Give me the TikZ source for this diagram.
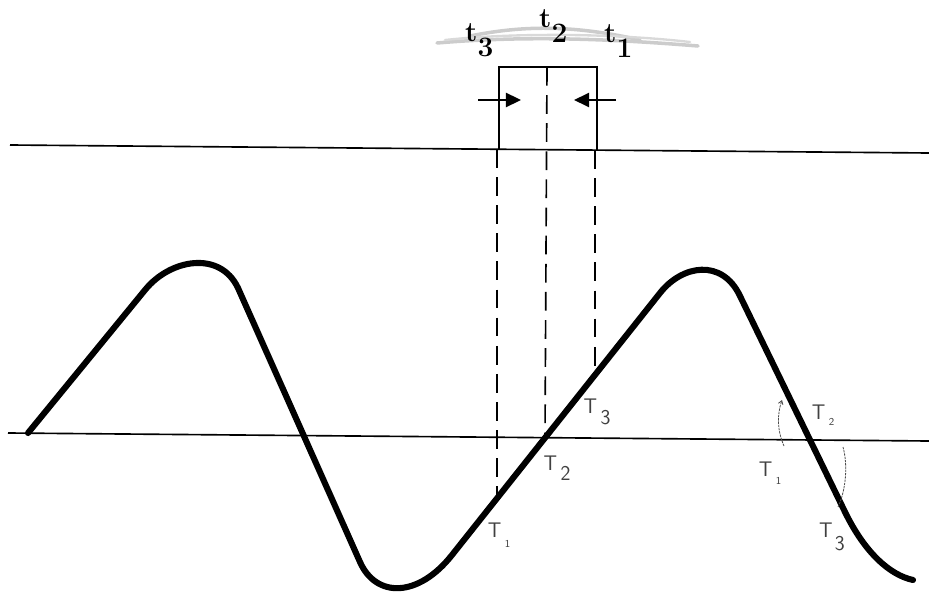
\documentclass[tikz,border=0pt]{standalone}
\usetikzlibrary{arrows.meta}
\begin{document}
\begin{tikzpicture}[x=0.03cm,y=-0.03cm,
  thinline/.style={line width=1.4pt},
  boxline/.style={line width=1.6pt},
  dashline/.style={line width=1.4pt,dash pattern=on 16pt off 8pt},
  wave/.style={line width=5.2pt,line cap=round,line join=round},
  pointer/.style={line width=2.5pt,-{Triangle[length=13pt,width=12pt]}},
  smudge/.style={line width=3pt,gray!40,line cap=round},
  tlabel/.style={inner sep=0pt,anchor=base west,font=\fontsize{24}{24}\selectfont\bfseries},
  hand/.style={inner sep=0pt,font=\fontsize{18}{18}\selectfont\sffamily,text=black!75},
  handarc/.style={line width=0.7pt,black!70,dash pattern=on 2pt off 0.8pt}]
\useasboundingbox (0,0) rectangle (929,592);
% reference lines
\coordinate (tl) at (10,145);
\coordinate (tr) at (929,153);
\coordinate (al) at (8,433);
\coordinate (ar) at (929,441);
\draw[thinline] (tl) -- (tr);
\draw[thinline] (al) -- (ar);
% box
\coordinate (boxbl) at (499,149);
\coordinate (boxtl) at (499,67);
\coordinate (boxtr) at (597,67);
\coordinate (boxbr) at (597,150);
\coordinate (boxtm) at (547,67);
\draw[boxline] (boxbl) -- (boxtl) -- (boxtr) -- (boxbr);
% arrows
\coordinate (la0) at (478,100);
\coordinate (la1) at (521,100);
\coordinate (ra0) at (616,100);
\coordinate (ra1) at (574,100);
\draw[pointer] (la0) -- (la1);
\draw[pointer] (ra0) -- (ra1);
% wave
\draw[wave] (28,433) -- (145,290)
  .. controls (170,259) and (220,250) .. (238,288)
  -- (360,562)
  .. controls (376,598) and (418,598) .. (452,555)
  -- (660,293)
  .. controls (682,265) and (722,258) .. (740,296)
  -- (845,512)
  .. controls (865,553) and (890,575) .. (913,580);
% dashed projections
\coordinate (w1) at (497,500);
\coordinate (w2) at (545,438);
\coordinate (w3) at (595,374);
\coordinate (d1) at (497,149);
\coordinate (d3) at (595,150);
\draw[dashline] (d1) -- (w1);
\draw[dashline] (boxtm) -- (w2);
\draw[dashline] (d3) -- (w3);
% smudge behind t labels
\draw[smudge] (437,43) .. controls (520,36) and (600,38) .. (698,46);
\draw[smudge] (470,36) .. controls (520,26) and (570,24) .. (640,40);
\draw[smudge,line width=2pt,gray!30] (445,40) .. controls (520,32) and (620,34) .. (690,42);
% t labels
\node[tlabel] (t3) at (465,42) {t\raisebox{-12pt}{3}};
\node[tlabel] (t2) at (539,28) {t\raisebox{-12pt}{2}};
\node[tlabel] (t1) at (604,43) {t\raisebox{-12pt}{1}};
% handwritten T labels
\node[hand] (T1a) at (499,535) {T\raisebox{-9pt}{\hspace{3pt}\small 1}};
\node[hand] (T2a) at (557,468) {T\raisebox{-9pt}{\hspace{3pt}2}};
\node[hand] (T3a) at (597,412) {T\raisebox{-9pt}{\hspace{3pt}3}};
\node[hand] (T1b) at (770,473) {T\raisebox{-7pt}{\hspace{3pt}\small 1}};
\node[hand] (T2b) at (823,415) {T\raisebox{-5pt}{\hspace{3pt}\small 2}};
\node[hand] (T3b) at (832,537) {T\raisebox{-11pt}{\hspace{2pt}3}};
% hand-drawn arcs
\coordinate (a1s) at (784,446);
\coordinate (a1e) at (782,400);
\coordinate (a2s) at (843,447);
\coordinate (a2e) at (838,507);
\draw[handarc,-{Straight Barb[length=3pt,width=4pt]}] (a1s) .. controls (777,430) and (777,415) .. (a1e);
\draw[handarc] (a2s) .. controls (848,465) and (846,490) .. (a2e);
\end{tikzpicture}
\end{document}
